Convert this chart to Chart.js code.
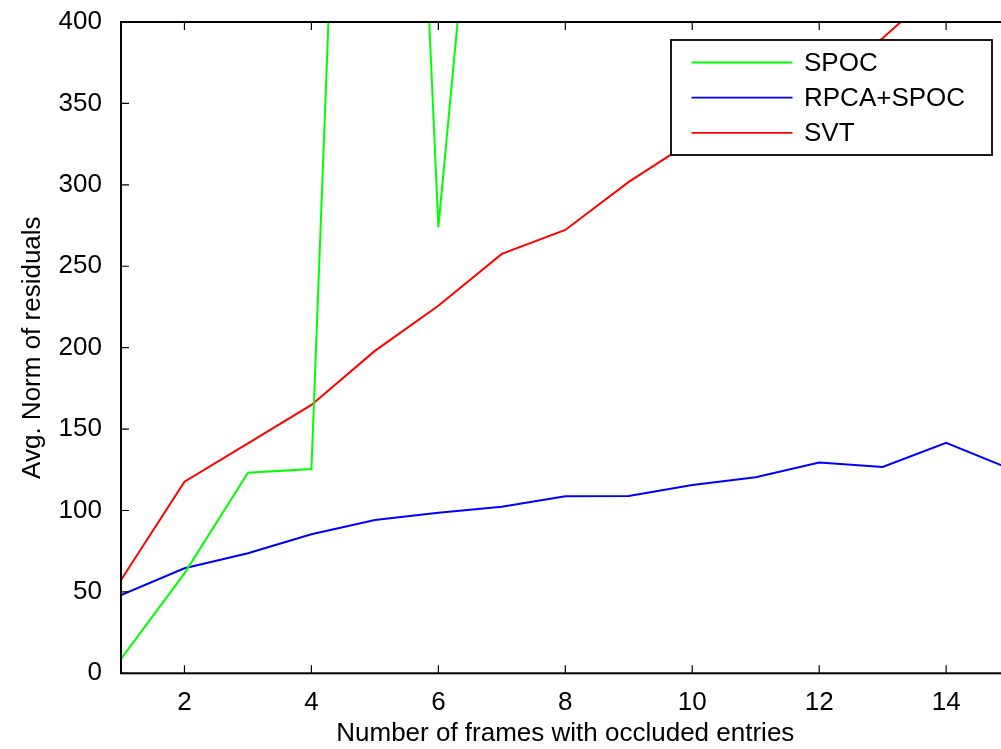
<!DOCTYPE html>
<html>
<head>
<meta charset="utf-8">
<script src="https://cdn.jsdelivr.net/npm/chart.js@4.4.1/dist/chart.umd.min.js"></script>
<style>
  html, body { margin: 0; padding: 0; overflow: hidden; background: #fff; }
  #wrap { width: 1040px; height: 749px; }
</style>
</head>
<body>
<div id="wrap"><canvas id="residualsChart" width="1040" height="749"></canvas></div>
<script>
// x = number of frames with occluded entries
const frames = [1, 2, 3, 4, 5, 6, 7, 8, 9, 10, 11, 12, 13, 14, 15];
// SPOC blows up after 4 frames; values past 7 are off the top of the plot (rough guesses)
const spoc = [8.8, 61.4, 123.2, 125.5, 1150, 274, 690, 820, 950, 1040, 1180, 1260, 1390, 1450, 1580];
const rpcaSpoc = [48.1, 64.5, 73.7, 85.4, 94.2, 98.6, 102.3, 108.7, 108.9, 115.6, 120.4, 129.4, 126.7, 141.6, 125.7];
const svt = [57.3, 117.7, 141.2, 164.8, 198, 225.7, 257.6, 272.3, 301.8, 327, 346, 368, 390, 425, 455];

const xTicks = [2, 4, 6, 8, 10, 12, 14];
const yTicks = [0, 50, 100, 150, 200, 250, 300, 350, 400];

const FONT = '"Liberation Sans", Arial, Helvetica, sans-serif';
const FONT_SIZE = 26;

function toPoints(values) {
  return frames.map((f, i) => ({ x: f, y: values[i] }));
}

/**
 * Matlab style box: frame on all four sides, inward ticks, legend inside
 */
const matlabBox = {
  id: 'matlabBox',
  afterDatasetsDraw(chart) {
    const { ctx, chartArea: a, scales } = chart;
    ctx.save();

    // inward ticks
    ctx.strokeStyle = '#000';
    ctx.lineWidth = 1.2;
    ctx.beginPath();
    scales.x.ticks.forEach(t => {
      const px = scales.x.getPixelForValue(t.value);
      ctx.moveTo(px, a.bottom); ctx.lineTo(px, a.bottom - 8);
      ctx.moveTo(px, a.top); ctx.lineTo(px, a.top + 8);
    });
    scales.y.ticks.forEach(t => {
      const py = scales.y.getPixelForValue(t.value);
      ctx.moveTo(a.left, py); ctx.lineTo(a.left + 8, py);
      ctx.moveTo(a.right, py); ctx.lineTo(a.right - 8, py);
    });
    ctx.stroke();

    // frame
    ctx.lineWidth = 2;
    ctx.strokeRect(a.left, a.top, a.right - a.left, a.bottom - a.top);

    // legend box
    const boxRight = a.right - 17.6;
    const boxTop = a.top + 18;
    const boxW = 321;
    const boxH = 115;
    const boxLeft = boxRight - boxW;
    ctx.fillStyle = '#fff';
    ctx.fillRect(boxLeft, boxTop, boxW, boxH);
    ctx.lineWidth = 1.8;
    ctx.strokeRect(boxLeft, boxTop, boxW, boxH);

    ctx.font = FONT_SIZE + 'px ' + FONT;
    ctx.textBaseline = 'middle';
    ctx.textAlign = 'left';
    chart.data.datasets.forEach((ds, i) => {
      const rowY = boxTop + 22.5 + i * 35.2;
      ctx.strokeStyle = ds.borderColor;
      ctx.lineWidth = 1.8;
      ctx.beginPath();
      ctx.moveTo(boxLeft + 20.5, rowY);
      ctx.lineTo(boxLeft + 121.5, rowY);
      ctx.stroke();
      ctx.fillStyle = '#000';
      ctx.fillText(ds.label, boxLeft + 133, rowY + 1);
    });

    ctx.restore();
  }
};

const ctx = document.getElementById('residualsChart');

new Chart(ctx, {
  type: 'line',
  data: {
    datasets: [{
      label: 'SPOC',
      data: toPoints(spoc),
      borderColor: '#00ff00',
      borderWidth: 2
    }, {
      label: 'RPCA+SPOC',
      data: toPoints(rpcaSpoc),
      borderColor: '#0000ff',
      borderWidth: 2
    }, {
      label: 'SVT',
      data: toPoints(svt),
      borderColor: '#ff0000',
      borderWidth: 2
    }]
  },
  options: {
    responsive: false,
    animation: false,
    devicePixelRatio: 1,
    elements: {
      point: { radius: 0 },
      line: { tension: 0, fill: false }
    },
    layout: {
      padding: { top: 22, right: 30.4, bottom: 0, left: 0 }
    },
    plugins: {
      legend: { display: false },
      tooltip: { enabled: false }
    },
    scales: {
      x: {
        type: 'linear',
        min: 1,
        max: 15,
        grid: { display: false },
        border: { display: false },
        afterBuildTicks: scale => {
          scale.ticks = xTicks.map(v => ({ value: v }));
        },
        afterFit: scale => { scale.height = 75.7; },
        ticks: {
          color: '#000',
          padding: 6,
          maxRotation: 0,
          autoSkip: false,
          font: { family: FONT, size: FONT_SIZE }
        },
        title: {
          display: true,
          text: 'Number of frames with occluded entries',
          color: '#000',
          padding: { top: 0, bottom: 0 },
          font: { family: FONT, size: FONT_SIZE }
        }
      },
      y: {
        min: 0,
        max: 400,
        grid: { display: false },
        border: { display: false },
        afterBuildTicks: scale => {
          scale.ticks = yTicks.map(v => ({ value: v }));
        },
        afterFit: scale => {
          scale.width = 121;
          // let the plot box start right at the layout padding
          scale.paddingTop = 0;
          scale.paddingBottom = 0;
        },
        ticks: {
          color: '#000',
          padding: 11,
          font: { family: FONT, size: FONT_SIZE }
        },
        title: {
          display: true,
          text: 'Avg. Norm of residuals',
          color: '#000',
          padding: { top: 17.4, bottom: 0 },
          font: { family: FONT, size: FONT_SIZE }
        }
      }
    }
  },
  plugins: [matlabBox]
});
</script>
</body>
</html>
